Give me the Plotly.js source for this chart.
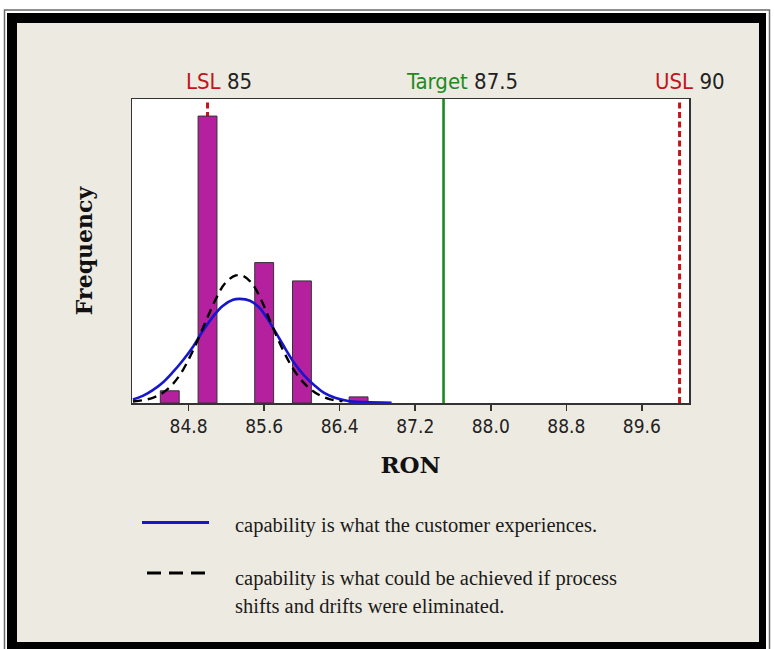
<!DOCTYPE html>
<html>
<head>
<meta charset="utf-8">
<script src="https://cdn.plot.ly/plotly-3.0.1.min.js"></script>
<style>
  html, body { margin: 0; padding: 0; background: #ffffff; }
  #chart { width: 774px; height: 649px; }
</style>
</head>
<body>
<div id="chart"></div>
<script>
// ---- data ----
const binCenters = [84.6, 85.0, 85.6, 86.0, 86.6];
const binCounts  = [2, 47, 23, 20, 1];

// overall (blue) fitted curve
const overallX = [84.21, 84.32, 84.42, 84.53, 84.63, 84.74, 84.85, 84.95, 85.06, 85.16, 85.27, 85.34, 85.45, 85.55, 85.63, 85.71, 85.82, 85.92, 86.03, 86.14, 86.24, 86.35, 86.49, 86.67, 86.95];
const overallY = [0.56, 1.2, 2.1, 3.4, 5.0, 7.0, 9.3, 11.8, 14.2, 15.9, 16.9, 17.05, 16.75, 15.6, 13.9, 11.9, 9.0, 6.5, 4.4, 2.8, 1.6, 0.85, 0.33, 0.14, 0.05];

// within (dashed) fitted curve
const withinX = [84.21, 84.31, 84.42, 84.52, 84.62, 84.72, 84.84, 84.96, 85.08, 85.19, 85.30, 85.38, 85.48, 85.58, 85.68, 85.78, 85.88, 85.98, 86.08, 86.19, 86.30, 86.43];
const withinY = [0.25, 0.45, 0.85, 1.6, 2.9, 4.9, 8.4, 12.6, 16.8, 19.7, 20.9, 20.8, 19.4, 16.5, 12.8, 9.3, 6.3, 4.0, 2.4, 1.25, 0.6, 0.3];

const tickValues = [84.8, 85.6, 86.4, 87.2, 88.0, 88.8, 89.6];
const tickLabels = ['84.8', '85.6', '86.4', '87.2', '88.0', '88.8', '89.6'];

const specNames  = ['LSL', 'Target', 'USL'];
const specValues = [85, 87.5, 90];

const legendTexts = [
  'capability is what the customer experiences.',
  'capability is what could be achieved if process',
  'shifts and drifts were eliminated.'
];

// ---- styling ----
const W = 774, H = 649;
const M = {l: 132, r: 85, t: 99, b: 246};
const PW = W - M.l - M.r, PH = H - M.t - M.b;
const px2x = p => (p - M.l) / PW;           // pixel -> paper x
const px2y = p => (H - M.b - p) / PH;       // pixel -> paper y

const BEIGE = '#EDEAE1';
const BAR = '#B5209E';
const BLUE = '#1616CF';
const RED = '#C3141C';
const GREEN = '#1E8A1E';
const SANS = 'DejaVu Sans Condensed, Liberation Sans Narrow, DejaVu Sans, sans-serif';
const SERIF = 'DejaVu Serif, serif';
const TIMES = 'Liberation Serif, serif';

const traces = [
  {
    type: 'bar', name: 'RON', x: binCenters, y: binCounts, width: 0.2,
    marker: {color: BAR, line: {color: '#333333', width: 1}},
    hoverinfo: 'x+y'
  },
  {
    type: 'scatter', mode: 'lines', name: 'Overall', x: overallX, y: overallY,
    line: {color: BLUE, width: 2.6, shape: 'spline', smoothing: 1}
  },
  {
    type: 'scatter', mode: 'lines', name: 'Within', x: withinX, y: withinY,
    line: {color: '#000000', width: 2.4, dash: '9px,6px', shape: 'spline', smoothing: 1}
  }
];

const specColors = [RED, GREEN, RED];
const specDash = ['6px,3.5px', 'solid', '6px,3.5px'];
const specShift = [11, 18, 10];

const shapes = [];
// frame: white margin, thick black border, thin outer line
const rectPx = (x0, y0, x1, y1, color) => ({
  type: 'rect', xref: 'paper', yref: 'paper', layer: 'below',
  x0: px2x(x0), x1: px2x(x1), y0: px2y(y1), y1: px2y(y0),
  fillcolor: color, line: {width: 0}
});
shapes.push(rectPx(0, 0, W, 13, '#ffffff'));
shapes.push(rectPx(0, 0, 7, H, '#ffffff'));
shapes.push(rectPx(766, 0, W, H, '#ffffff'));
shapes.push(rectPx(7, 13, 17, H, '#000000'));
shapes.push(rectPx(759, 13, 766, H, '#000000'));
shapes.push(rectPx(7, 13, 766, 23, '#000000'));
shapes.push(rectPx(7, 642, 766, H, '#000000'));
shapes.push({
  type: 'rect', xref: 'paper', yref: 'paper', layer: 'below',
  x0: px2x(4.5), x1: px2x(769.5), y0: px2y(H + 10), y1: px2y(10),
  fillcolor: 'rgba(0,0,0,0)', line: {color: '#6a6a6a', width: 1.5}
});
// spec lines
specValues.forEach((v, i) => {
  shapes.push({
    type: 'line', xref: 'x', yref: 'paper', layer: 'below',
    x0: v, x1: v, y0: 0, y1: 1,
    line: {color: specColors[i], width: i === 1 ? 2.6 : 3, dash: specDash[i]}
  });
});
// legend samples
shapes.push({
  type: 'line', xref: 'paper', yref: 'paper',
  x0: px2x(142), x1: px2x(209), y0: px2y(522.5), y1: px2y(522.5),
  line: {color: BLUE, width: 3}
});
shapes.push({
  type: 'line', xref: 'paper', yref: 'paper',
  x0: px2x(147), x1: px2x(207), y0: px2y(573), y1: px2y(573),
  line: {color: '#000000', width: 3, dash: '14px,8px'}
});

const annotations = [];
specValues.forEach((v, i) => {
  annotations.push({
    xref: 'x', yref: 'paper', x: v, y: px2y(82), xanchor: 'center', yanchor: 'middle',
    xshift: specShift[i], showarrow: false,
    text: '<span style="color:' + specColors[i] + '">' + specNames[i] + '</span> ' + String(v),
    font: {family: SANS, size: 22, color: '#222222'}
  });
});
const legendY = [525, 578, 606];
legendTexts.forEach((t, i) => {
  annotations.push({
    xref: 'paper', yref: 'paper', x: px2x(233), y: px2y(legendY[i]),
    xanchor: 'left', yanchor: 'middle', showarrow: false, align: 'left',
    text: t, font: {family: TIMES, size: 20.5, color: '#1a1a1a'}
  });
});

const layout = {
  width: W, height: H,
  margin: {l: M.l, r: M.r, t: M.t, b: M.b, pad: 0},
  paper_bgcolor: BEIGE, plot_bgcolor: '#ffffff',
  showlegend: false, bargap: 0,
  xaxis: {
    range: [84.2, 90.1], tickvals: tickValues, ticktext: tickLabels,
    ticks: 'outside', ticklen: 6, tickwidth: 1.5, tickcolor: '#333333',
    showline: true, mirror: true, linecolor: '#333333', linewidth: 1.5,
    showgrid: false, zeroline: false,
    tickfont: {family: SANS, size: 19, color: '#222222'},
    title: {text: '<b>RON</b>', font: {family: SERIF, size: 23, color: '#111111'}, standoff: 20}
  },
  yaxis: {
    range: [0, 49.8], showticklabels: false, ticks: '',
    showline: true, mirror: true, linecolor: '#333333', linewidth: 1.5,
    showgrid: false, zeroline: false,
    title: {text: '<b>Frequency</b>', font: {family: SERIF, size: 22, color: '#111111'}, standoff: 32}
  },
  shapes: shapes,
  annotations: annotations
};

Plotly.newPlot('chart', traces, layout, {displayModeBar: false, staticPlot: true});
</script>
</body>
</html>
